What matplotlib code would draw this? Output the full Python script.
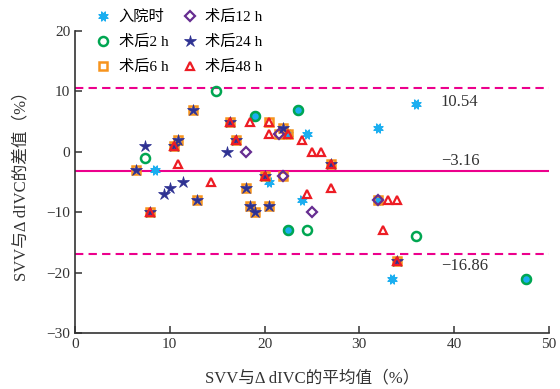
import matplotlib
matplotlib.use("Agg")
import matplotlib.pyplot as plt
from matplotlib.lines import Line2D

plt.rcParams['font.family'] = ['Liberation Serif', 'Noto Sans CJK SC', 'DejaVu Sans']
plt.rcParams['axes.unicode_minus'] = True

# ---- data ----
adm_x = [8.4, 19.0, 23.5, 22.5, 47.6, 20.5, 24.0, 24.5, 32.0, 36.0, 33.5, 32.0, 22.5]
adm_y = [-3, 6, 7, -13, -21, -5, -8, 3, 4, 8, -21, -8, 3]

h2_x = [7.4, 14.9, 19.0, 23.5, 22.5, 24.5, 36.0, 47.6]
h2_y = [-1, 10, 6, 7, -13, -13, -14, -21]

h6_x = [12.4, 10.9, 10.4, 6.4, 12.9, 7.9, 16.4, 20.5, 22.0, 21.5, 22.5, 17.0,
        20.0, 22.0, 18.0, 18.5, 19.0, 20.5, 27.0, 32.0, 34.0]
h6_y = [7, 2, 1, -3, -8, -10, 5, 5, 4, 3, 3, 2, -4, -4, -6, -9, -10, -9, -2, -8, -18]

h12_x = [21.5, 18.0, 22.0, 25.0, 32.0]
h12_y = [3, 0, -4, -10, -8]

h24_x = [12.4, 10.9, 10.4, 7.4, 6.4, 10.0, 9.4, 11.4, 16.0, 12.9, 7.9, 16.4,
         22.0, 17.0, 20.0, 18.0, 18.5, 19.0, 20.5, 27.0, 34.0]
h24_y = [7, 2, 1, 1, -3, -6, -7, -5, 0, -8, -10, 5, 4, 2, -4, -6, -9, -10, -9, -2, -18]

h48_x = [10.4, 7.9, 10.9, 14.4, 16.4, 18.5, 20.5, 20.5, 22.5, 24.0, 17.0, 20.0,
         24.5, 25.0, 26.0, 27.0, 27.0, 33.0, 34.0, 32.5, 34.0]
h48_y = [1, -10, -2, -5, 5, 5, 5, 3, 3, 2, 2, -4, -7, 0, 0, -2, -6, -8, -8, -13, -18]

mean_diff = -3.16
upper_loa = 10.54
lower_loa = -16.86

labels = ['入院时', '术后2 h', '术后6 h', '术后12 h', '术后24 h', '术后48 h']

# ---- styles ----
C_CYAN = '#1aaef0'
C_GREEN = '#00a651'
C_ORANGE = '#f7941d'
C_PURPLE = '#662d91'
C_NAVY = '#2e3192'
C_RED = '#ed1c24'
C_PINK = '#ec008c'

fig = plt.figure(figsize=(5.6, 3.89), dpi=100)
ax = fig.add_axes([0.134, 0.144, 0.846, 0.776])

series = [
    (adm_x, adm_y, dict(marker=(8, 1, 22.5), ms=7.5, mfc=C_CYAN, mec=C_CYAN, mew=0.8)),
    (h2_x, h2_y, dict(marker='o', ms=6.5, mfc='none', mec=C_GREEN, mew=1.8)),
    (h6_x, h6_y, dict(marker='s', ms=6.2, mfc='none', mec=C_ORANGE, mew=1.8)),
    (h12_x, h12_y, dict(marker='D', ms=4.8, mfc='none', mec=C_PURPLE, mew=1.6)),
    (h24_x, h24_y, dict(marker='*', ms=9, mfc=C_NAVY, mec=C_NAVY, mew=0.5)),
    (h48_x, h48_y, dict(marker='^', ms=6.2, mfc='none', mec=C_RED, mew=1.6)),
]

handles = []
for (xs, ys, st), lab in zip(series, labels):
    ax.plot(xs, ys, linestyle='none', zorder=3, **st)
    handles.append(Line2D([], [], linestyle='none', **st))

ax.axhline(mean_diff, color=C_PINK, lw=1.5, zorder=2)
ax.axhline(upper_loa, color=C_PINK, lw=1.5, ls=(0, (4, 2.5)), zorder=2)
ax.axhline(lower_loa, color=C_PINK, lw=1.5, ls=(0, (4, 2.5)), zorder=2)

ax.text(38.6, upper_loa - 2.2, f'{upper_loa:.2f}', fontsize=12, color='#333333', va='center')
ax.text(38.6, mean_diff + 1.6, f'{mean_diff:.2f}'.replace('-', '\u2212'), fontsize=12,
        color='#333333', va='center')
ax.text(38.6, lower_loa - 2.0, f'{lower_loa:.2f}'.replace('-', '\u2212'), fontsize=12,
        color='#333333', va='center')

ax.set_xlim(0, 50)
ax.set_ylim(-30, 20)
ax.set_xticks(range(0, 51, 10))
ax.set_yticks(range(-30, 21, 10))
ax.tick_params(direction='in', length=5, width=1.1, labelsize=11, colors='#333333')
for s in ['top', 'right']:
    ax.spines[s].set_visible(False)
for s in ['left', 'bottom']:
    ax.spines[s].set_linewidth(1.2)
    ax.spines[s].set_color('#333333')

ax.set_xlabel('SVV与Δ dIVC的平均值（%）', fontsize=12, color='#333333', labelpad=14)
ax.set_ylabel('SVV与Δ dIVC的差值（%）', fontsize=12, color='#333333', labelpad=12)

fig.legend(handles, labels, ncol=2, loc='upper left', bbox_to_anchor=(0.16, 0.99),
           frameon=False, fontsize=11, handlelength=1.0, handletextpad=0.5,
           columnspacing=0.9, labelspacing=0.72, borderaxespad=0)

fig.savefig('out.png', dpi=100)
